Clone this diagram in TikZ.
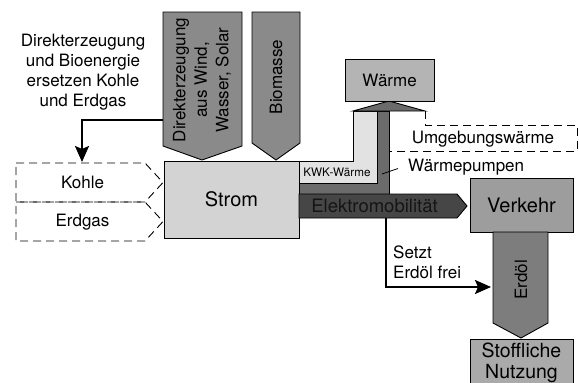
\documentclass[tikz,border=0pt]{standalone}
\usepackage{fontspec}
\setmainfont{TeX Gyre Heros}
\usetikzlibrary{arrows.meta}
\definecolor{cSrc}{HTML}{8A8A8A}
\definecolor{cStrom}{HTML}{D3D3D3}
\definecolor{cKWK}{HTML}{E2E2E2}
\definecolor{cWP}{HTML}{6B6B6B}
\definecolor{cWaerme}{HTML}{B4B4B4}
\definecolor{cEM}{HTML}{464646}
\definecolor{cEMtext}{HTML}{151515}
\definecolor{cVerkehr}{HTML}{9D9D9D}
\definecolor{cErdoel}{HTML}{7D7D7D}
\definecolor{cStoff}{HTML}{AAAAAA}
\begin{document}
\begin{tikzpicture}[x=1pt,y=-1pt,
  outl/.style={draw=black,line width=0.9pt,line join=miter},
  dsh/.style={draw=black,line width=0.9pt,dash pattern=on 8pt off 5pt},
  conn/.style={draw=black,line width=2pt,-{Stealth[length=16pt,width=14pt,inset=3pt]}},
  lbl/.style={font=\fontsize{17}{20.5}\selectfont,align=center,inner sep=0pt},
  big/.style={font=\fontsize{20}{21}\selectfont,align=center,inner sep=0pt},
  boxn/.style={outl,inner sep=0pt},
]
\useasboundingbox (0,0) rectangle (579,383);

% source arrows
\draw[outl,fill=cSrc] (163,12) -- (242,12) -- (242,146) -- (202,160) -- (163,146) -- cycle;
\node[lbl,rotate=90,font=\fontsize{17}{21.5}\selectfont] (direkt) at (202,80) {Direkterzeugung\\aus Wind,\\Wasser, Solar};
\draw[outl,fill=cSrc] (252,12) -- (300,12) -- (300,143) -- (276,160) -- (252,143) -- cycle;
\node[lbl,rotate=90] (bio) at (276,77) {Biomasse};

% left note
\node[lbl,font=\fontsize{17}{20}\selectfont] (note) at (83,72) {Direkterzeugung\\und Bioenergie\\ersetzen Kohle\\und Erdgas};

% Kohle / Erdgas
\draw[dsh] (16,163) -- (145,163) -- (163,182.5) -- (145,202) -- (16,202) -- cycle;
\draw[dsh] (16,202) -- (145,202) -- (163,221.5) -- (145,241) -- (16,241) -- cycle;
\node[lbl] (kohle) at (82.5,182) {Kohle};
\node[lbl] (erdgas) at (82.5,222) {Erdgas};
\coordinate (k0) at (163,120);
\coordinate (kohletop) at (82,162);
\draw[conn] (k0) -| (kohletop);

% heat streams
\draw[outl,fill=cKWK] (299,161) -- (353,161) -- (353,111) -- (377,111) -- (377,183) -- (299,183) -- cycle;
\draw[outl,fill=cWP] (377,111) -- (389,111) -- (389,194) -- (299,194) -- (299,183) -- (377,183) -- cycle;
\draw[outl,fill=cWP] (353,111) -- (389,101) -- (425,111) -- cycle;
\draw[dsh] (425,111) -- (425,125) -- (577,125) -- (577,151) -- (389,151);
\node[lbl] (umg) at (483,139) {Umgebungswärme};
\node[lbl,font=\fontsize{11.7}{13}\selectfont] (kwk) at (337,172) {KWK-Wärme};
\node[lbl,anchor=west] (wp) at (408,167) {Wärmepumpen};
\coordinate (wpband) at (382,174);
\coordinate (wpend) at (398,168.5);
\draw[line width=0.8pt] (wpband) -- (wpend);

% Wärme box
\node[boxn,fill=cWaerme,minimum width=89pt,minimum height=42pt,lbl] (waerme) at (389.5,80) {Wärme};

% Strom
\node[boxn,fill=cStrom,minimum width=135pt,minimum height=77pt,big] (strom) at (231.5,199.5) {Strom};

% Elektromobilität
\draw[outl,fill=cEM] (299,194) -- (457,194) -- (467,206) -- (457,218) -- (299,218) -- cycle;
\node[lbl,font=\fontsize{18.5}{20}\selectfont,text=cEMtext] (em) at (374.5,206) {Elektromobilität};

% Verkehr
\node[boxn,fill=cVerkehr,minimum width=103pt,minimum height=54pt,big] (verkehr) at (521.5,205) {Verkehr};

% Erdöl
\draw[outl,fill=cErdoel] (493,232) -- (548,232) -- (548,323) -- (521,338) -- (493,323) -- cycle;
\node[lbl,rotate=90] (erdoel) at (521,280) {Erdöl};

% Stoffliche Nutzung
\draw[outl,fill=cStoff] (470,339) rectangle (573,388);
\node[lbl,font=\fontsize{19.5}{20.5}\selectfont] (stoff) at (521.5,363) {Stoffliche\\Nutzung};

% Setzt Erdöl frei
\coordinate (s0) at (386,218);
\coordinate (s1) at (491,287);
\draw[conn] (s0) |- (s1);
\node[lbl,align=left,anchor=west] (setzt) at (393,262.5) {Setzt\\Erdöl frei};
\end{tikzpicture}
\end{document}
